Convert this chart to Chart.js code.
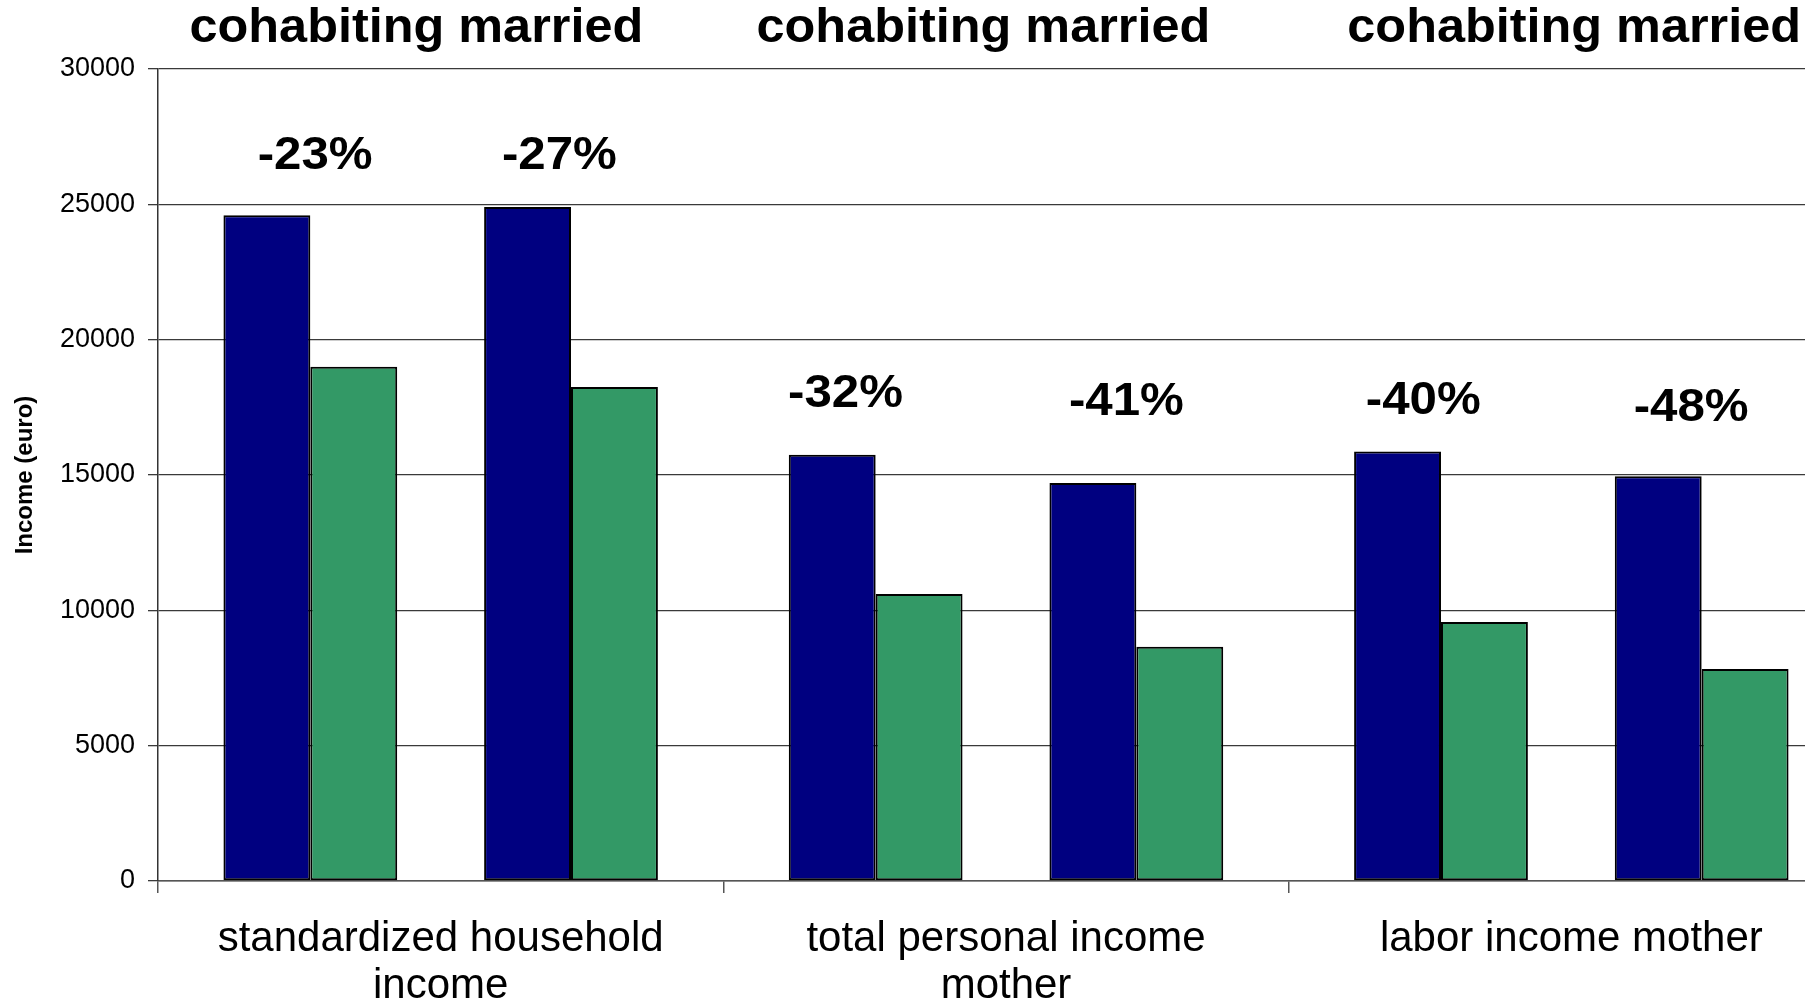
<!DOCTYPE html>
<html>
<head>
<meta charset="utf-8">
<script src="https://cdn.jsdelivr.net/npm/chart.js@4"></script>
<style>
  html, body { margin: 0; padding: 0; background: #ffffff; overflow: hidden; }
  #wrap { position: absolute; left: 0; top: 0; width: 1854px; height: 1003px; }
</style>
</head>
<body>
<div id="wrap"><canvas id="c" width="1854" height="1003"></canvas></div>
<script>
// ---- data ----
const categories = [
  ['standardized household', 'income'],
  ['total personal income', 'mother'],
  ['labor income mother']
];
const groupTitle = 'cohabiting married';
const blueA  = [24600, 15750, 15870];
const greenA = [19000, 10600, 9570];
const blueB  = [24900, 14700, 14950];
const greenB = [18250, 8650, 7830];
const percentLabels = ['-23%', '-27%', '-32%', '-41%', '-40%', '-48%'];
const yTicks = [0, 5000, 10000, 15000, 20000, 25000, 30000];

// ---- annotation layout (positions of the free text) ----
const pctAnchorFrac = [0.278, 0.710, 0.216, 0.713, 0.238, 0.712]; // fraction across category
const pctAnchorVal  = [26300, 26300, 17500, 17200, 17250, 16980]; // baseline in value units
const titleFrac = [0.457, 0.460, 0.505];

const FONT = "'Liberation Sans', Arial, Helvetica, sans-serif";
const BLUE = '#000080';
const GREEN = '#339966';

function stretchedText(ctx, text, cx, cy, sx) {
  ctx.save();
  ctx.translate(cx, cy);
  ctx.scale(sx, 1);
  ctx.fillText(text, 0, 0);
  ctx.restore();
}

const annotate = {
  id: 'annotate',
  afterDatasetsDraw(chart) {
    const ctx = chart.ctx;
    const x = chart.scales.x, y = chart.scales.y;
    const catW = (x.right - x.left) / categories.length;
    ctx.save();
    ctx.fillStyle = '#000';
    ctx.textAlign = 'center';
    ctx.textBaseline = 'alphabetic';
    ctx.font = 'bold 48px ' + FONT;
    for (let i = 0; i < categories.length; i++) {
      const left = x.getPixelForValue(i) - catW / 2;
      stretchedText(ctx, groupTitle, left + titleFrac[i] * catW, chart.chartArea.top - 27, 1.05);
    }
    ctx.font = 'bold 46px ' + FONT;
    percentLabels.forEach((t, k) => {
      const ci = Math.floor(k / 2);
      const left = x.getPixelForValue(ci) - catW / 2;
      stretchedText(ctx, t, left + pctAnchorFrac[k] * catW, y.getPixelForValue(pctAnchorVal[k]), 1.07);
    });
    ctx.restore();
  }
};

const barStyle = { borderColor: '#000000', borderWidth: 2, borderSkipped: false, barPercentage: 1.0, categoryPercentage: 0.7685 };

new Chart(document.getElementById('c'), {
  type: 'bar',
  data: {
    labels: categories,
    datasets: [
      Object.assign({ label: 'cohabiting', data: blueA, backgroundColor: BLUE }, barStyle),
      Object.assign({ label: 'married', data: greenA, backgroundColor: GREEN }, barStyle),
      Object.assign({ label: '', data: [null, null, null], backgroundColor: 'rgba(0,0,0,0)' }, barStyle),
      Object.assign({ label: 'cohabiting ', data: blueB, backgroundColor: BLUE }, barStyle),
      Object.assign({ label: 'married ', data: greenB, backgroundColor: GREEN }, barStyle)
    ]
  },
  options: {
    responsive: false,
    animation: false,
    devicePixelRatio: 1,
    layout: { padding: { top: 69, left: 0, right: 0, bottom: 0 } },
    plugins: { legend: { display: false }, tooltip: { enabled: false }, title: { display: false } },
    scales: {
      x: {
        offset: true,
        grid: { display: true, drawOnChartArea: false, drawTicks: true, tickLength: 12, color: '#555555', lineWidth: 1.5, offset: true },
        border: { display: true, color: '#555555', width: 1.5 },
        ticks: { color: '#000', font: { family: FONT, size: 42, lineHeight: 1.14 }, padding: 22, maxRotation: 0, minRotation: 0, autoSkip: false },
        afterFit: s => { s.height = 122; }
      },
      y: {
        min: 0, max: 30000,
        afterBuildTicks: s => { s.ticks = yTicks.map(v => ({ value: v })); },
        grid: { color: '#3a3a3a', lineWidth: 1.3, tickLength: 10, drawTicks: true },
        border: { display: true, color: '#333333', width: 1.5 },
        ticks: { color: '#000', font: { family: FONT, size: 27 }, padding: 13, callback: v => String(v) },
        title: { display: true, text: 'Income (euro)', color: '#000', font: { family: FONT, size: 24, weight: 'bold' }, padding: { top: 11, bottom: 0 } },
        afterFit: s => { s.width = 158; }
      }
    }
  },
  plugins: [annotate]
});
</script>
</body>
</html>
